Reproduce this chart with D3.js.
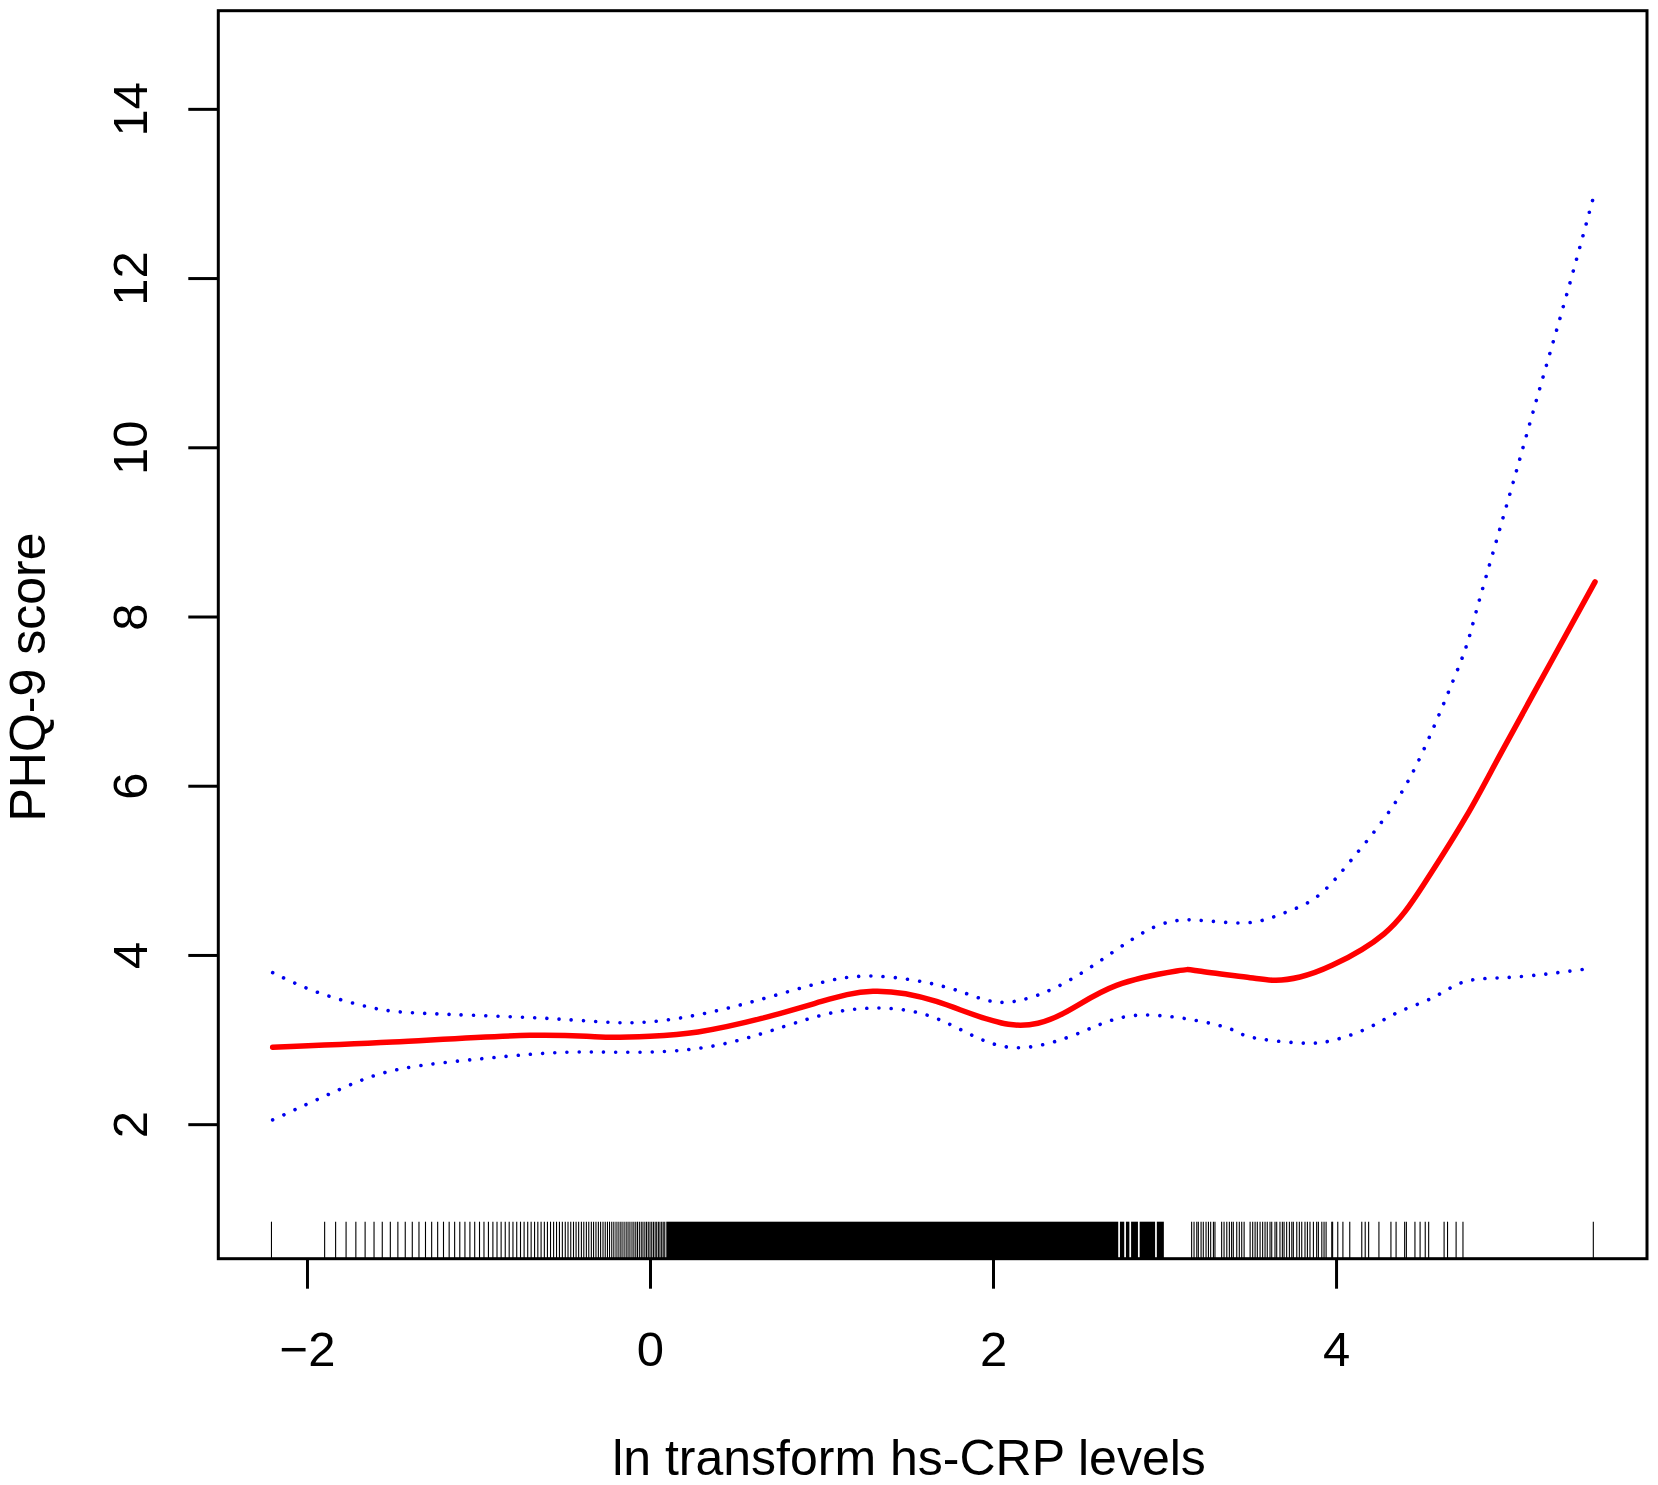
<!DOCTYPE html>
<html>
<head>
<meta charset="utf-8">
<script src="https://cdn.jsdelivr.net/npm/d3@7"></script>
<style>
  html, body { margin: 0; padding: 0; background: #fff; }
  svg { display: block; }
  text { font-family: "Liberation Sans", Arial, Helvetica, sans-serif; fill: #000; }
</style>
</head>
<body>
<svg id="chart" width="1658" height="1485"></svg>
<script>
// ---- data ----
const xTicks = [-2, 0, 2, 4];
const yTicks = [2, 4, 6, 8, 10, 12, 14];
const xTitle = "ln transform hs-CRP levels";
const yTitle = "PHQ-9 score";

// fitted curve (x = ln hs-CRP, y = PHQ-9)
const fitX = [-2.2, -1.5, -0.7, -0.29, 0, 0.28, 0.65, 1.0, 1.30, 1.67, 2.09, 2.41, 2.72, 3.07, 3.2, 3.5, 3.65, 3.79, 3.98, 4.28, 4.51, 4.76, 4.96, 5.25, 5.51];
const fitY = [2.91, 2.97, 3.05, 3.03, 3.04, 3.09, 3.25, 3.45, 3.57, 3.45, 3.18, 3.31, 3.64, 3.81, 3.81, 3.73, 3.70, 3.74, 3.88, 4.25, 4.83, 5.64, 6.38, 7.45, 8.41];

// upper 95% CI
const upX = [-2.2, -1.94, -1.63, -1.32, -0.7, -0.29, 0, 0.41, 0.9, 1.30, 1.76, 2.07, 2.47, 2.9, 3.20, 3.48, 3.69, 3.89, 4.08, 4.28, 4.47, 4.66, 4.76, 4.82, 4.94, 5.06, 5.18, 5.34, 5.50];
const upY = [3.79, 3.56, 3.38, 3.31, 3.26, 3.21, 3.21, 3.35, 3.62, 3.75, 3.60, 3.44, 3.73, 4.29, 4.41, 4.38, 4.49, 4.69, 5.10, 5.61, 6.25, 7.13, 7.65, 8.08, 8.93, 9.78, 10.64, 11.77, 12.95];

// lower 95% CI
const loX = [-2.2, -1.81, -1.46, -0.95, -0.49, -0.08, 0.41, 0.9, 1.27, 1.67, 2.09, 2.53, 2.88, 3.33, 3.50, 3.79, 3.98, 4.18, 4.37, 4.57, 4.76, 5.05, 5.48];
const loY = [2.05, 2.41, 2.65, 2.78, 2.85, 2.85, 2.94, 3.23, 3.37, 3.25, 2.91, 3.10, 3.29, 3.16, 3.03, 2.96, 2.99, 3.13, 3.33, 3.50, 3.69, 3.74, 3.84];

// rug: individual observation ticks (ln hs-CRP)
const rugTicks = [
  -2.207, -1.897, -1.833, -1.772, -1.715, -1.661, -1.609, -1.561, -1.514, -1.470,
  -1.427, -1.386, -1.347, -1.309, -1.273, -1.238, -1.204, -1.171, -1.139, -1.109,
  -1.079, -1.050, -1.022, -0.994, -0.968, -0.942, -0.916, -0.892, -0.868, -0.844,
  -0.821, -0.799, -0.777, -0.755, -0.734, -0.713, -0.693, -0.673, -0.654, -0.635,
  -0.616, -0.598, -0.580, -0.562, -0.545, -0.528, -0.511, -0.494, -0.478, -0.462,
  -0.446, -0.431, -0.416, -0.400, -0.386, -0.371, -0.357, -0.342, -0.329, -0.315,
  -0.301, -0.288, -0.274, -0.261, -0.248, -0.236, -0.223, -0.211, -0.198, -0.186,
  -0.174, -0.163, -0.151, -0.139, -0.128, -0.117, -0.105, -0.094, -0.083, -0.073,
  -0.062, -0.051, -0.041, -0.030, -0.020, -0.010, 0.000, 0.010, 0.020, 0.030,
  0.039, 0.049, 0.058, 0.068, 0.077, 0.086,
  3.158, 3.172, 3.188, 3.197, 3.213, 3.226, 3.242, 3.256, 3.269, 3.285, 3.294,
  3.333, 3.347, 3.363, 3.378, 3.391, 3.401, 3.421, 3.436, 3.450, 3.464,
  3.499, 3.514, 3.528, 3.541, 3.557, 3.572, 3.586, 3.599, 3.615, 3.625, 3.644,
  3.654, 3.673, 3.687, 3.697, 3.712, 3.728, 3.742, 3.751, 3.771, 3.786, 3.800,
  3.819, 3.833, 3.848, 3.868, 3.887, 3.897, 3.917, 3.930, 3.942, 3.975,
  3.98, 4.01, 4.04, 4.08, 4.15, 4.17, 4.19, 4.25, 4.32, 4.35, 4.40, 4.41,
  4.46, 4.49, 4.52, 4.54, 4.63, 4.65, 4.70, 4.74, 5.50
];
// rug: stretches so dense that ticks merge into solid black
const rugSolidStart = [0.095, 2.740, 2.775, 2.805, 2.855, 2.955];
const rugSolidEnd   = [2.730, 2.765, 2.795, 2.845, 2.945, 2.996];

// ---- drawing ----
const svg = d3.select("#chart");
const L = 218.3, R = 1647, T = 10.7, B = 1258.7;

const x = d3.scaleLinear().domain([-2.517, 5.813]).range([L, R]);
const y = d3.scaleLinear().domain([0.41, 15.16]).range([B, T]);

const line = d3.line()
  .x(d => x(d[0])).y(d => y(d[1]))
  .curve(d3.curveNatural);

const zip = (a, b) => a.map((v, i) => [v, b[i]]);

// rug
const rugH = 37;
svg.append("g").selectAll("line").data(rugTicks).join("line")
  .attr("x1", d => x(d)).attr("x2", d => x(d))
  .attr("y1", B).attr("y2", B - rugH)
  .attr("stroke", "#000").attr("stroke-width", 1.1);
svg.append("g").selectAll("rect").data(rugSolidStart).join("rect")
  .attr("x", d => x(d))
  .attr("width", (d, i) => x(rugSolidEnd[i]) - x(d))
  .attr("y", B - rugH).attr("height", rugH)
  .attr("fill", "#000");

// CI lines (dotted blue)
[zip(upX, upY), zip(loX, loY)].forEach(pts => {
  svg.append("path").datum(pts)
    .attr("d", line)
    .attr("fill", "none")
    .attr("stroke", "#0000ee")
    .attr("stroke-width", 3.6)
    .attr("stroke-linecap", "round")
    .attr("stroke-dasharray", "0.01 12.2");
});

// fitted line (red)
svg.append("path").datum(zip(fitX, fitY))
  .attr("d", line)
  .attr("fill", "none")
  .attr("stroke", "#ff0000")
  .attr("stroke-width", 5.5)
  .attr("stroke-linecap", "round")
  .attr("stroke-linejoin", "round");

// box
svg.append("rect")
  .attr("x", L).attr("y", T).attr("width", R - L).attr("height", B - T)
  .attr("fill", "none").attr("stroke", "#000").attr("stroke-width", 3);

// x axis
const gx = svg.append("g").attr("transform", `translate(0,${B})`)
  .call(d3.axisBottom(x).tickValues(xTicks).tickSize(30).tickPadding(43));
gx.select(".domain").remove();
gx.selectAll(".tick line").attr("stroke", "#000").attr("stroke-width", 3);
gx.selectAll(".tick text").attr("font-size", 49)
  .attr("font-family", "Liberation Sans, Arial, sans-serif").attr("fill", "#000");

// y axis
const gy = svg.append("g").attr("transform", `translate(${L},0)`)
  .call(d3.axisLeft(y).tickValues(yTicks).tickSize(30));
gy.select(".domain").remove();
gy.selectAll(".tick line").attr("stroke", "#000").attr("stroke-width", 3);
gy.selectAll(".tick text")
  .attr("font-size", 49)
  .attr("font-family", "Liberation Sans, Arial, sans-serif").attr("fill", "#000")
  .attr("transform", "rotate(-90)")
  .attr("x", 0).attr("y", -71.6).attr("dy", 0)
  .attr("text-anchor", "middle");

// titles
svg.append("text")
  .attr("x", 909).attr("y", 1475)
  .attr("text-anchor", "middle").attr("font-size", 50)
  .text(xTitle);
svg.append("text")
  .attr("transform", "translate(45,677) rotate(-90)")
  .attr("text-anchor", "middle").attr("font-size", 50)
  .text(yTitle);
</script>
</body>
</html>
